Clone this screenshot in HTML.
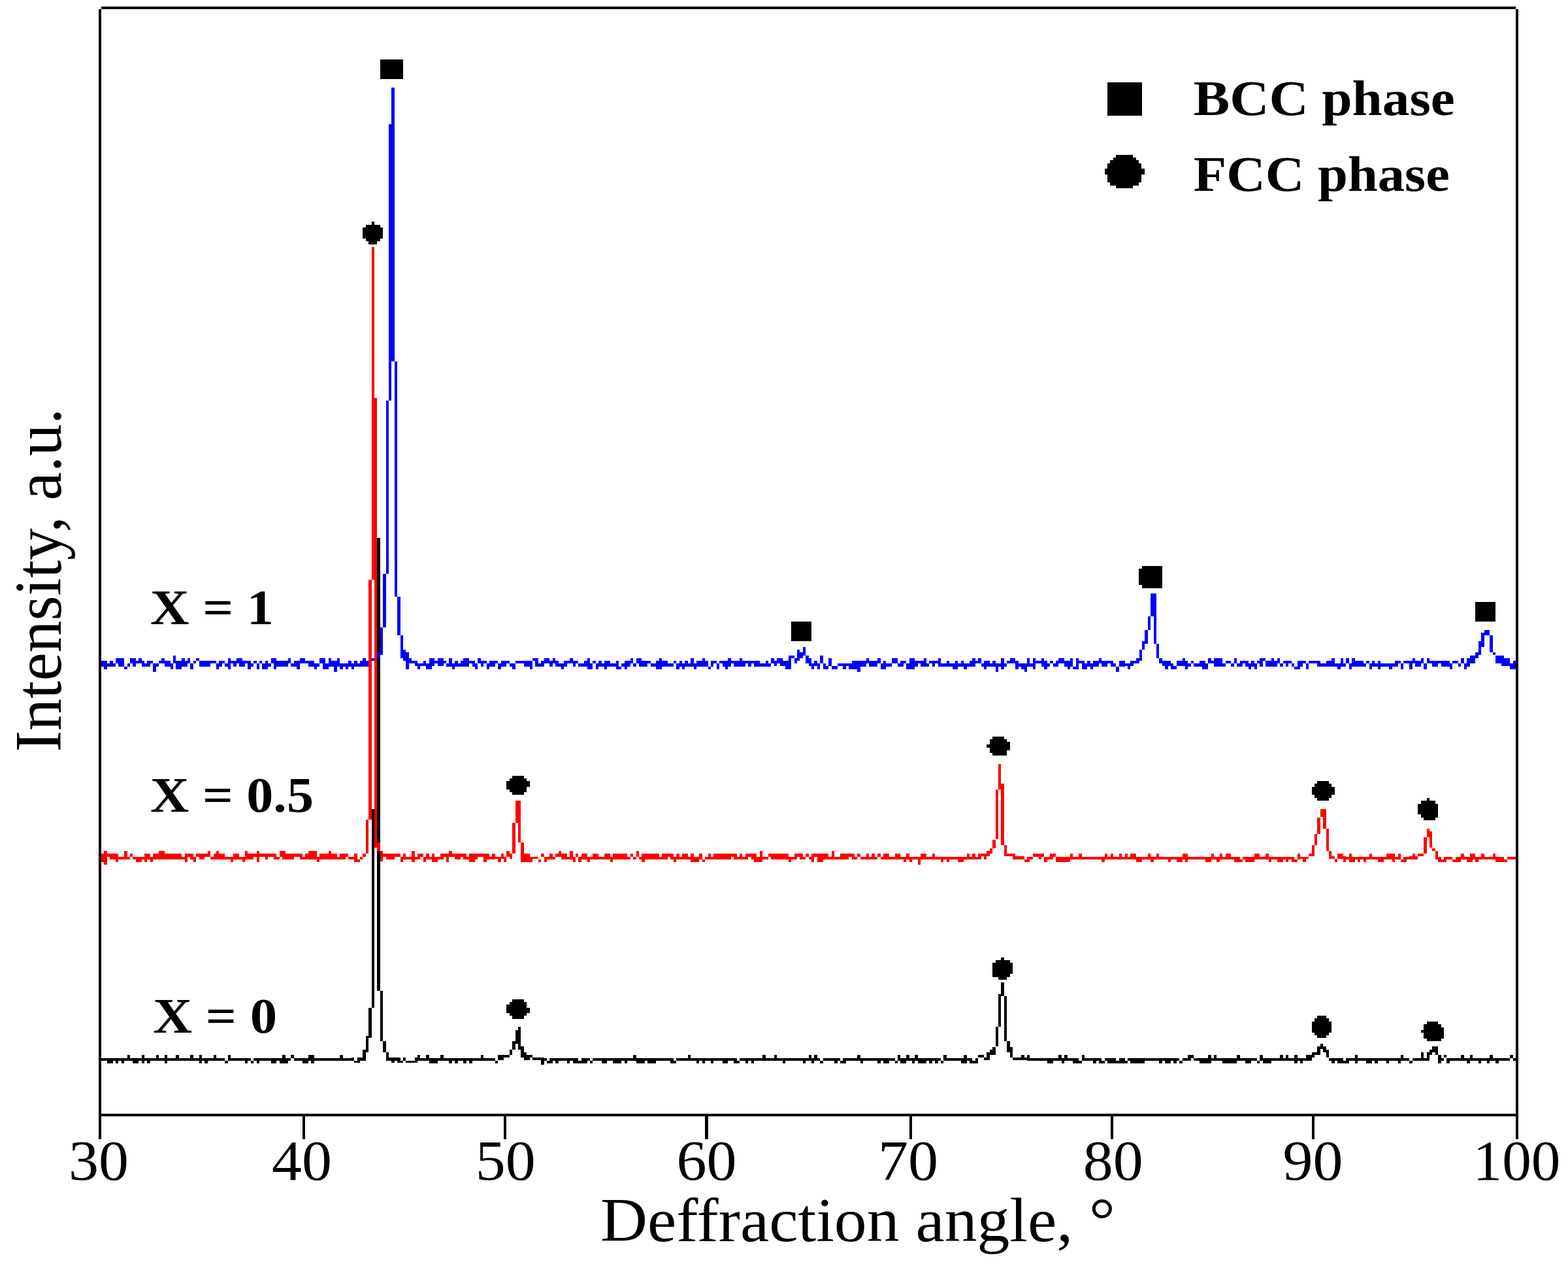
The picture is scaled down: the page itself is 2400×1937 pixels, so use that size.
<!DOCTYPE html>
<html><head><meta charset="utf-8"><title>XRD patterns</title>
<style>
html,body{margin:0;padding:0;background:#fff}
body{width:2400px;height:1937px;overflow:hidden;position:relative}
svg{position:absolute;left:0;top:0;display:block}
text{font-family:'Liberation Serif','Times New Roman',serif;fill:#000}
</style></head><body>
<svg width="2400" height="1937" viewBox="0 0 2400 1937">
<rect width="2400" height="1937" fill="#fff"/>
<g shape-rendering="crispEdges">
<path fill="#000" d="M155 10.1H2320V14.2H155zM150.6 14.2H155V1742.5H150.6zM2320 14.2H2324.4V1742.5H2320zM155 1704H2320V1708.2H155zM463.0 1708.2H467.4V1742.5H463.0zM771.0 1708.2H775.4V1742.5H771.0zM1079.1 1708.2H1083.5V1742.5H1079.1zM1391.5 1708.2H1395.9V1742.5H1391.5zM1699.5 1708.2H1703.9V1742.5H1699.5zM2007.6 1708.2H2012.0V1742.5H2007.6z"/>
<path fill="#000" d="M155.0 1618.5h4.40v4.2h-4.40zM159.4 1618.5h4.40v4.2h-4.40zM163.8 1618.5h4.40v8.5h-4.40zM168.2 1618.5h4.40v8.5h-4.40zM172.6 1618.5h4.40v4.2h-4.40zM177.0 1618.5h4.40v8.5h-4.40zM181.4 1618.5h4.40v4.2h-4.40zM185.8 1618.5h4.40v8.5h-4.40zM190.2 1618.5h4.40v4.2h-4.40zM194.6 1614.3h4.40v8.5h-4.40zM199.0 1618.5h4.40v4.2h-4.40zM203.4 1618.5h4.40v8.5h-4.40zM207.8 1618.5h4.40v8.5h-4.40zM212.2 1618.5h4.40v4.2h-4.40zM216.6 1614.3h4.40v12.7h-4.40zM221.0 1618.5h4.40v4.2h-4.40zM225.4 1618.5h4.40v8.5h-4.40zM229.8 1618.5h4.40v4.2h-4.40zM234.2 1618.5h4.40v4.2h-4.40zM238.6 1614.3h4.40v8.5h-4.40zM243.0 1618.5h4.40v4.2h-4.40zM247.4 1618.5h4.40v4.2h-4.40zM251.8 1614.3h4.40v12.7h-4.40zM256.2 1618.5h4.40v4.2h-4.40zM260.6 1618.5h4.40v4.2h-4.40zM265.0 1618.5h4.40v4.2h-4.40zM269.4 1614.3h4.40v8.5h-4.40zM273.8 1618.5h4.40v4.2h-4.40zM278.2 1618.5h4.40v4.2h-4.40zM282.6 1618.5h4.40v4.2h-4.40zM287.0 1618.5h4.40v4.2h-4.40zM291.4 1614.3h4.40v8.5h-4.40zM295.8 1618.5h4.40v4.2h-4.40zM300.2 1618.5h4.40v4.2h-4.40zM304.6 1614.3h4.40v12.7h-4.40zM309.0 1618.5h4.40v4.2h-4.40zM313.4 1618.5h4.40v8.5h-4.40zM317.8 1618.5h4.40v4.2h-4.40zM322.2 1618.5h4.40v4.2h-4.40zM326.6 1614.3h4.40v8.5h-4.40zM331.0 1618.5h4.40v4.2h-4.40zM335.4 1618.5h4.40v4.2h-4.40zM339.8 1618.5h4.40v4.2h-4.40zM344.2 1622.7h4.40v4.2h-4.40zM348.6 1614.3h4.40v8.5h-4.40zM353.0 1618.5h4.40v4.2h-4.40zM357.4 1618.5h4.40v4.2h-4.40zM361.8 1618.5h4.40v4.2h-4.40zM366.2 1618.5h4.40v4.2h-4.40zM370.6 1618.5h4.40v4.2h-4.40zM375.0 1618.5h4.40v8.5h-4.40zM379.4 1618.5h4.40v4.2h-4.40zM383.8 1622.7h4.40v4.2h-4.40zM388.2 1618.5h4.40v4.2h-4.40zM392.6 1618.5h4.40v8.5h-4.40zM397.0 1618.5h4.40v4.2h-4.40zM401.4 1618.5h4.40v4.2h-4.40zM405.8 1618.5h4.40v4.2h-4.40zM410.2 1618.5h4.40v4.2h-4.40zM414.6 1618.5h4.40v8.5h-4.40zM419.0 1618.5h4.40v8.5h-4.40zM423.4 1618.5h4.40v4.2h-4.40zM427.8 1618.5h4.40v8.5h-4.40zM432.2 1614.3h4.40v12.7h-4.40zM436.6 1618.5h4.40v8.5h-4.40zM441.0 1618.5h4.40v4.2h-4.40zM445.4 1614.3h4.40v4.2h-4.40zM449.8 1618.5h4.40v4.2h-4.40zM454.2 1618.5h4.40v4.2h-4.40zM458.6 1618.5h4.40v4.2h-4.40zM463.0 1618.5h4.40v8.5h-4.40zM467.4 1618.5h4.40v8.5h-4.40zM471.8 1614.3h4.40v8.5h-4.40zM476.2 1614.3h4.40v12.7h-4.40zM480.6 1618.5h4.40v4.2h-4.40zM485.0 1618.5h4.40v4.2h-4.40zM489.4 1618.5h4.40v4.2h-4.40zM493.8 1618.5h4.40v4.2h-4.40zM498.2 1618.5h4.40v4.2h-4.40zM502.6 1618.5h4.40v4.2h-4.40zM507.0 1618.5h4.40v4.2h-4.40zM511.4 1618.5h4.40v4.2h-4.40zM515.8 1618.5h4.40v4.2h-4.40zM520.2 1614.3h4.40v8.5h-4.40zM524.6 1618.5h4.40v4.2h-4.40zM529.0 1618.5h4.40v4.2h-4.40zM533.4 1618.5h4.40v4.2h-4.40zM537.8 1618.4h4.40v4.5h-4.40zM542.2 1622.9h4.40v3.5h-4.40zM546.6 1618.4h4.40v8.0h-4.40zM551.0 1618.4h4.40v4.5h-4.40zM555.4 1606.0h4.40v16.9h-4.40zM559.8 1584.5h4.40v25.0h-4.40zM564.2 1541.6h4.40v46.4h-4.40zM568.6 1238.0h4.40v303.6h-4.40zM573.0 822.8h4.40v415.2h-4.40zM577.4 822.8h4.40v692.9h-4.40zM581.8 1515.7h4.40v76.8h-4.40zM586.2 1592.5h4.40v17.0h-4.40zM590.6 1609.5h4.40v13.4h-4.40zM595.0 1618.4h4.40v4.5h-4.40zM599.4 1618.4h4.40v8.0h-4.40zM603.8 1618.4h4.40v4.5h-4.40zM608.2 1618.4h4.40v8.0h-4.40zM612.6 1622.9h4.40v3.5h-4.40zM617.0 1618.4h4.40v4.5h-4.40zM621.4 1622.9h4.40v3.5h-4.40zM625.8 1622.9h4.40v3.5h-4.40zM630.2 1622.9h4.40v3.5h-4.40zM634.6 1618.4h4.40v8.0h-4.40zM639.0 1614.3h4.40v8.5h-4.40zM643.4 1618.5h4.40v4.2h-4.40zM647.8 1618.5h4.40v4.2h-4.40zM652.2 1614.3h4.40v8.5h-4.40zM656.6 1618.5h4.40v8.5h-4.40zM661.0 1618.5h4.40v8.5h-4.40zM665.4 1618.5h4.40v8.5h-4.40zM669.8 1618.5h4.40v4.2h-4.40zM674.2 1614.3h4.40v8.5h-4.40zM678.6 1618.5h4.40v4.2h-4.40zM683.0 1618.5h4.40v4.2h-4.40zM687.4 1618.5h4.40v8.5h-4.40zM691.8 1618.5h4.40v4.2h-4.40zM696.2 1618.5h4.40v8.5h-4.40zM700.6 1618.5h4.40v4.2h-4.40zM705.0 1618.5h4.40v4.2h-4.40zM709.4 1618.5h4.40v8.5h-4.40zM713.8 1618.5h4.40v4.2h-4.40zM718.2 1618.5h4.40v8.5h-4.40zM722.6 1618.5h4.40v4.2h-4.40zM727.0 1618.5h4.40v4.2h-4.40zM731.4 1618.5h4.40v4.2h-4.40zM735.8 1614.3h4.40v8.5h-4.40zM740.2 1618.5h4.40v4.2h-4.40zM744.6 1618.5h4.40v4.2h-4.40zM749.0 1618.5h4.40v4.2h-4.40zM753.4 1618.5h4.40v4.2h-4.40zM757.8 1622.7h4.40v4.2h-4.40zM762.2 1614.0h4.40v8.3h-4.40zM766.6 1614.0h4.40v8.3h-4.40zM771.0 1614.0h4.40v4.2h-4.40zM775.4 1614.0h4.40v4.2h-4.40zM779.8 1605.8h4.40v7.9h-4.40zM784.2 1592.7h4.40v12.8h-4.40zM788.6 1575.9h4.40v20.9h-4.40zM793.0 1571.4h4.40v34.1h-4.40zM797.4 1601.0h4.40v17.2h-4.40zM801.8 1610.0h4.40v12.3h-4.40zM806.2 1614.0h4.40v8.3h-4.40zM810.6 1614.0h4.40v4.2h-4.40zM815.0 1618.2h4.40v4.1h-4.40zM819.4 1618.2h4.40v4.1h-4.40zM823.8 1618.2h4.40v4.1h-4.40zM828.2 1618.2h4.40v10.5h-4.40zM832.6 1618.5h4.40v4.2h-4.40zM837.0 1622.7h4.40v4.2h-4.40zM841.4 1618.5h4.40v8.5h-4.40zM845.8 1618.5h4.40v4.2h-4.40zM850.2 1618.5h4.40v8.5h-4.40zM854.6 1618.5h4.40v4.2h-4.40zM859.0 1618.5h4.40v4.2h-4.40zM863.4 1618.5h4.40v4.2h-4.40zM867.8 1618.5h4.40v8.5h-4.40zM872.2 1618.5h4.40v4.2h-4.40zM876.6 1618.5h4.40v8.5h-4.40zM881.0 1618.5h4.40v8.5h-4.40zM885.4 1622.7h4.40v4.2h-4.40zM889.8 1618.5h4.40v8.5h-4.40zM894.2 1618.5h4.40v8.5h-4.40zM898.6 1618.5h4.40v4.2h-4.40zM903.0 1622.7h4.40v4.2h-4.40zM907.4 1618.5h4.40v4.2h-4.40zM911.8 1618.5h4.40v4.2h-4.40zM916.2 1618.5h4.40v4.2h-4.40zM920.6 1618.5h4.40v8.5h-4.40zM925.0 1618.5h4.40v8.5h-4.40zM929.4 1618.5h4.40v4.2h-4.40zM933.8 1618.5h4.40v4.2h-4.40zM938.2 1618.5h4.40v8.5h-4.40zM942.6 1618.5h4.40v8.5h-4.40zM947.0 1618.5h4.40v8.5h-4.40zM951.4 1618.5h4.40v4.2h-4.40zM955.8 1618.5h4.40v8.5h-4.40zM960.2 1618.5h4.40v4.2h-4.40zM964.6 1618.5h4.40v4.2h-4.40zM969.1 1614.3h4.40v8.5h-4.40zM973.5 1618.5h4.40v8.5h-4.40zM977.9 1618.5h4.40v8.5h-4.40zM982.3 1618.5h4.40v8.5h-4.40zM986.7 1618.5h4.40v4.2h-4.40zM991.1 1618.5h4.40v8.5h-4.40zM995.5 1618.5h4.40v8.5h-4.40zM999.9 1618.5h4.40v8.5h-4.40zM1004.3 1618.5h4.40v4.2h-4.40zM1008.7 1618.5h4.40v4.2h-4.40zM1013.1 1618.5h4.40v4.2h-4.40zM1017.5 1618.5h4.40v4.2h-4.40zM1021.9 1618.5h4.40v4.2h-4.40zM1026.3 1618.5h4.40v8.5h-4.40zM1030.7 1622.7h4.40v4.2h-4.40zM1035.1 1618.5h4.40v4.2h-4.40zM1039.5 1618.5h4.40v4.2h-4.40zM1043.9 1618.5h4.40v4.2h-4.40zM1048.3 1618.5h4.40v4.2h-4.40zM1052.7 1614.3h4.40v8.5h-4.40zM1057.1 1618.5h4.40v4.2h-4.40zM1061.5 1618.5h4.40v4.2h-4.40zM1065.9 1618.5h4.40v8.5h-4.40zM1070.3 1618.5h4.40v4.2h-4.40zM1074.7 1618.5h4.40v8.5h-4.40zM1079.1 1618.5h4.40v4.2h-4.40zM1083.5 1618.5h4.40v4.2h-4.40zM1087.9 1618.5h4.40v8.5h-4.40zM1092.3 1618.5h4.40v4.2h-4.40zM1096.7 1618.5h4.40v4.2h-4.40zM1101.1 1618.5h4.40v4.2h-4.40zM1105.5 1618.5h4.40v8.5h-4.40zM1109.9 1618.5h4.40v8.5h-4.40zM1114.3 1618.5h4.40v4.2h-4.40zM1118.7 1618.5h4.40v4.2h-4.40zM1123.1 1618.5h4.40v8.5h-4.40zM1127.5 1622.7h4.40v4.2h-4.40zM1131.9 1618.5h4.40v4.2h-4.40zM1136.3 1618.5h4.40v4.2h-4.40zM1140.7 1618.5h4.40v8.5h-4.40zM1145.1 1618.5h4.40v4.2h-4.40zM1149.5 1618.5h4.40v8.5h-4.40zM1153.9 1618.5h4.40v4.2h-4.40zM1158.3 1618.5h4.40v4.2h-4.40zM1162.7 1618.5h4.40v4.2h-4.40zM1167.1 1614.3h4.40v8.5h-4.40zM1171.5 1618.5h4.40v4.2h-4.40zM1175.9 1618.5h4.40v4.2h-4.40zM1180.3 1618.5h4.40v4.2h-4.40zM1184.7 1614.3h4.40v8.5h-4.40zM1189.1 1618.5h4.40v4.2h-4.40zM1193.5 1618.5h4.40v4.2h-4.40zM1197.9 1618.5h4.40v8.5h-4.40zM1202.3 1618.5h4.40v4.2h-4.40zM1206.7 1618.5h4.40v4.2h-4.40zM1211.1 1618.5h4.40v4.2h-4.40zM1215.5 1618.5h4.40v4.2h-4.40zM1219.9 1618.5h4.40v4.2h-4.40zM1224.3 1618.5h4.40v4.2h-4.40zM1228.7 1618.5h4.40v8.5h-4.40zM1233.1 1618.5h4.40v4.2h-4.40zM1237.5 1614.3h4.40v8.5h-4.40zM1241.9 1618.5h4.40v8.5h-4.40zM1246.3 1614.3h4.40v8.5h-4.40zM1250.7 1618.5h4.40v4.2h-4.40zM1255.1 1622.7h4.40v4.2h-4.40zM1259.5 1618.5h4.40v4.2h-4.40zM1263.9 1618.5h4.40v4.2h-4.40zM1268.3 1618.5h4.40v4.2h-4.40zM1272.7 1618.5h4.40v4.2h-4.40zM1277.1 1618.5h4.40v8.5h-4.40zM1281.5 1618.5h4.40v4.2h-4.40zM1285.9 1622.7h4.40v4.2h-4.40zM1290.3 1618.5h4.40v8.5h-4.40zM1294.7 1618.5h4.40v4.2h-4.40zM1299.1 1618.5h4.40v4.2h-4.40zM1303.5 1618.5h4.40v4.2h-4.40zM1307.9 1618.5h4.40v4.2h-4.40zM1312.3 1614.3h4.40v8.5h-4.40zM1316.7 1618.5h4.40v8.5h-4.40zM1321.1 1618.5h4.40v4.2h-4.40zM1325.5 1618.5h4.40v4.2h-4.40zM1329.9 1618.5h4.40v4.2h-4.40zM1334.3 1618.5h4.40v4.2h-4.40zM1338.7 1618.5h4.40v4.2h-4.40zM1343.1 1618.5h4.40v8.5h-4.40zM1347.5 1618.5h4.40v4.2h-4.40zM1351.9 1618.5h4.40v8.5h-4.40zM1356.3 1618.5h4.40v8.5h-4.40zM1360.7 1618.5h4.40v4.2h-4.40zM1365.1 1618.5h4.40v4.2h-4.40zM1369.5 1622.7h4.40v4.2h-4.40zM1373.9 1614.3h4.40v8.5h-4.40zM1378.3 1618.5h4.40v8.5h-4.40zM1382.7 1618.5h4.40v8.5h-4.40zM1387.1 1614.3h4.40v8.5h-4.40zM1391.5 1618.5h4.40v4.2h-4.40zM1395.9 1618.5h4.40v8.5h-4.40zM1400.3 1614.3h4.40v8.5h-4.40zM1404.7 1618.5h4.40v8.5h-4.40zM1409.1 1618.5h4.40v8.5h-4.40zM1413.5 1618.5h4.40v8.5h-4.40zM1417.9 1618.5h4.40v4.2h-4.40zM1422.3 1618.5h4.40v8.5h-4.40zM1426.7 1618.5h4.40v4.2h-4.40zM1431.1 1618.5h4.40v8.5h-4.40zM1435.5 1618.5h4.40v4.2h-4.40zM1439.9 1622.7h4.40v4.2h-4.40zM1444.3 1614.3h4.40v8.5h-4.40zM1448.7 1618.5h4.40v4.2h-4.40zM1453.1 1618.5h4.40v4.2h-4.40zM1457.5 1618.5h4.40v4.2h-4.40zM1461.9 1618.5h4.40v4.2h-4.40zM1466.3 1618.5h4.40v4.2h-4.40zM1470.7 1618.5h4.40v8.5h-4.40zM1475.1 1614.3h4.40v12.7h-4.40zM1479.5 1618.5h4.40v4.2h-4.40zM1483.9 1618.5h4.40v8.5h-4.40zM1488.3 1622.7h4.40v4.2h-4.40zM1492.7 1618.5h4.40v8.5h-4.40zM1497.1 1614.0h4.40v4.4h-4.40zM1501.5 1614.0h4.40v4.4h-4.40zM1505.9 1618.4h4.40v3.9h-4.40zM1510.3 1610.2h4.40v12.1h-4.40zM1514.7 1605.9h4.40v7.6h-4.40zM1519.1 1601.5h4.40v12.0h-4.40zM1523.5 1571.4h4.40v29.6h-4.40zM1527.9 1520.5h4.40v50.4h-4.40zM1532.3 1503.3h4.40v20.5h-4.40zM1536.7 1524.4h4.40v68.3h-4.40zM1541.1 1592.7h4.40v17.0h-4.40zM1545.5 1601.5h4.40v16.9h-4.40zM1549.9 1618.4h4.40v3.9h-4.40zM1554.3 1618.4h4.40v3.9h-4.40zM1558.7 1618.4h4.40v3.9h-4.40zM1563.1 1614.0h4.40v8.3h-4.40zM1567.5 1618.4h4.40v3.9h-4.40zM1571.9 1614.3h4.40v8.5h-4.40zM1576.3 1618.5h4.40v4.2h-4.40zM1580.7 1618.5h4.40v4.2h-4.40zM1585.1 1618.5h4.40v4.2h-4.40zM1589.5 1618.5h4.40v4.2h-4.40zM1593.9 1618.5h4.40v4.2h-4.40zM1598.3 1618.5h4.40v4.2h-4.40zM1602.7 1618.5h4.40v8.5h-4.40zM1607.1 1618.5h4.40v8.5h-4.40zM1611.5 1618.5h4.40v4.2h-4.40zM1615.9 1618.5h4.40v4.2h-4.40zM1620.3 1614.3h4.40v8.5h-4.40zM1624.7 1618.5h4.40v8.5h-4.40zM1629.1 1614.3h4.40v8.5h-4.40zM1633.5 1618.5h4.40v4.2h-4.40zM1637.9 1618.5h4.40v4.2h-4.40zM1642.3 1618.5h4.40v8.5h-4.40zM1646.7 1618.5h4.40v8.5h-4.40zM1651.1 1622.7h4.40v4.2h-4.40zM1655.5 1614.3h4.40v8.5h-4.40zM1659.9 1618.5h4.40v4.2h-4.40zM1664.3 1618.5h4.40v4.2h-4.40zM1668.7 1618.5h4.40v4.2h-4.40zM1673.1 1618.5h4.40v8.5h-4.40zM1677.5 1618.5h4.40v4.2h-4.40zM1681.9 1618.5h4.40v8.5h-4.40zM1686.3 1622.7h4.40v4.2h-4.40zM1690.7 1618.5h4.40v4.2h-4.40zM1695.1 1618.5h4.40v8.5h-4.40zM1699.5 1618.5h4.40v8.5h-4.40zM1703.9 1618.5h4.40v8.5h-4.40zM1708.3 1622.7h4.40v4.2h-4.40zM1712.7 1618.5h4.40v8.5h-4.40zM1717.1 1618.5h4.40v8.5h-4.40zM1721.5 1622.7h4.40v4.2h-4.40zM1725.9 1618.5h4.40v4.2h-4.40zM1730.3 1618.5h4.40v8.5h-4.40zM1734.7 1618.5h4.40v8.5h-4.40zM1739.1 1618.5h4.40v8.5h-4.40zM1743.5 1618.5h4.40v8.5h-4.40zM1747.9 1618.5h4.40v8.5h-4.40zM1752.3 1618.5h4.40v4.2h-4.40zM1756.7 1618.5h4.40v4.2h-4.40zM1761.1 1618.5h4.40v4.2h-4.40zM1765.5 1618.5h4.40v4.2h-4.40zM1769.9 1618.5h4.40v4.2h-4.40zM1774.3 1618.5h4.40v8.5h-4.40zM1778.7 1618.5h4.40v4.2h-4.40zM1783.1 1618.5h4.40v8.5h-4.40zM1787.5 1618.5h4.40v8.5h-4.40zM1791.9 1618.5h4.40v4.2h-4.40zM1796.3 1618.5h4.40v8.5h-4.40zM1800.7 1618.5h4.40v4.2h-4.40zM1805.1 1622.7h4.40v4.2h-4.40zM1809.5 1618.5h4.40v4.2h-4.40zM1813.9 1618.5h4.40v4.2h-4.40zM1818.3 1614.3h4.40v8.5h-4.40zM1822.7 1614.3h4.40v4.2h-4.40zM1827.1 1618.5h4.40v4.2h-4.40zM1831.5 1618.5h4.40v4.2h-4.40zM1835.9 1618.5h4.40v8.5h-4.40zM1840.3 1618.5h4.40v8.5h-4.40zM1844.7 1618.5h4.40v8.5h-4.40zM1849.2 1614.3h4.40v12.7h-4.40zM1853.6 1618.5h4.40v4.2h-4.40zM1858.0 1614.3h4.40v8.5h-4.40zM1862.4 1618.5h4.40v4.2h-4.40zM1866.8 1618.5h4.40v4.2h-4.40zM1871.2 1618.5h4.40v8.5h-4.40zM1875.6 1618.5h4.40v8.5h-4.40zM1880.0 1618.5h4.40v8.5h-4.40zM1884.4 1618.5h4.40v8.5h-4.40zM1888.8 1618.5h4.40v8.5h-4.40zM1893.2 1614.3h4.40v8.5h-4.40zM1897.6 1618.5h4.40v4.2h-4.40zM1902.0 1618.5h4.40v4.2h-4.40zM1906.4 1618.5h4.40v8.5h-4.40zM1910.8 1618.5h4.40v8.5h-4.40zM1915.2 1618.5h4.40v4.2h-4.40zM1919.6 1618.5h4.40v4.2h-4.40zM1924.0 1622.7h4.40v4.2h-4.40zM1928.4 1614.3h4.40v8.5h-4.40zM1932.8 1618.5h4.40v8.5h-4.40zM1937.2 1618.5h4.40v8.5h-4.40zM1941.6 1618.5h4.40v8.5h-4.40zM1946.0 1618.5h4.40v4.2h-4.40zM1950.4 1618.5h4.40v4.2h-4.40zM1954.8 1618.5h4.40v4.2h-4.40zM1959.2 1614.3h4.40v8.5h-4.40zM1963.6 1618.5h4.40v4.2h-4.40zM1968.0 1614.3h4.40v8.5h-4.40zM1972.4 1618.5h4.40v4.2h-4.40zM1976.8 1618.5h4.40v4.2h-4.40zM1981.2 1614.3h4.40v12.7h-4.40zM1985.6 1618.5h4.40v4.2h-4.40zM1990.0 1618.6h4.40v8.1h-4.40zM1994.4 1618.6h4.40v4.1h-4.40zM1998.8 1614.3h4.40v8.4h-4.40zM2003.2 1614.3h4.40v8.4h-4.40zM2007.6 1610.0h4.40v8.4h-4.40zM2012.0 1610.0h4.40v4.0h-4.40zM2016.4 1601.4h4.40v12.6h-4.40zM2020.8 1597.3h4.40v8.1h-4.40zM2025.2 1601.4h4.40v8.3h-4.40zM2029.6 1606.0h4.40v12.4h-4.40zM2034.0 1618.6h4.40v4.1h-4.40zM2038.4 1618.6h4.40v8.1h-4.40zM2042.8 1618.6h4.40v4.1h-4.40zM2047.2 1618.6h4.40v8.1h-4.40zM2051.6 1618.6h4.40v8.1h-4.40zM2056.0 1623.0h4.40v3.7h-4.40zM2060.4 1618.5h4.40v8.5h-4.40zM2064.8 1618.5h4.40v4.2h-4.40zM2069.2 1618.5h4.40v4.2h-4.40zM2073.6 1614.3h4.40v12.7h-4.40zM2078.0 1618.5h4.40v4.2h-4.40zM2082.4 1618.5h4.40v4.2h-4.40zM2086.8 1618.5h4.40v4.2h-4.40zM2091.2 1618.5h4.40v8.5h-4.40zM2095.6 1618.5h4.40v8.5h-4.40zM2100.0 1618.5h4.40v4.2h-4.40zM2104.4 1618.5h4.40v8.5h-4.40zM2108.8 1618.5h4.40v4.2h-4.40zM2113.2 1618.5h4.40v4.2h-4.40zM2117.6 1618.5h4.40v4.2h-4.40zM2122.0 1618.5h4.40v8.5h-4.40zM2126.4 1618.5h4.40v4.2h-4.40zM2130.8 1618.5h4.40v4.2h-4.40zM2135.2 1618.5h4.40v4.2h-4.40zM2139.6 1618.5h4.40v8.5h-4.40zM2144.0 1614.3h4.40v8.5h-4.40zM2148.4 1618.5h4.40v4.2h-4.40zM2152.8 1618.5h4.40v4.2h-4.40zM2157.2 1622.6h4.40v4.1h-4.40zM2161.6 1618.7h4.40v3.9h-4.40zM2166.0 1618.7h4.40v3.9h-4.40zM2170.4 1618.7h4.40v3.9h-4.40zM2174.8 1610.1h4.40v12.5h-4.40zM2179.2 1618.7h4.40v3.9h-4.40zM2183.6 1610.1h4.40v12.5h-4.40zM2188.0 1606.0h4.40v7.8h-4.40zM2192.4 1601.3h4.40v8.3h-4.40zM2196.8 1601.3h4.40v12.5h-4.40zM2201.2 1614.3h4.40v12.4h-4.40zM2205.6 1618.7h4.40v3.9h-4.40zM2210.0 1614.3h4.40v3.9h-4.40zM2214.4 1618.7h4.40v8.0h-4.40zM2218.8 1618.7h4.40v3.9h-4.40zM2223.2 1618.7h4.40v3.9h-4.40zM2227.6 1618.7h4.40v3.9h-4.40zM2232.0 1618.7h4.40v3.9h-4.40zM2236.4 1614.3h4.40v8.3h-4.40zM2240.8 1618.5h4.40v4.2h-4.40zM2245.2 1618.5h4.40v8.5h-4.40zM2249.6 1614.3h4.40v8.5h-4.40zM2254.0 1618.5h4.40v4.2h-4.40zM2258.4 1618.5h4.40v4.2h-4.40zM2262.8 1618.5h4.40v8.5h-4.40zM2267.2 1618.5h4.40v4.2h-4.40zM2271.6 1618.5h4.40v4.2h-4.40zM2276.0 1618.5h4.40v8.5h-4.40zM2280.4 1614.3h4.40v8.5h-4.40zM2284.8 1618.5h4.40v4.2h-4.40zM2289.2 1618.5h4.40v8.5h-4.40zM2293.6 1618.5h4.40v4.2h-4.40zM2298.0 1618.5h4.40v4.2h-4.40zM2302.4 1618.5h4.40v4.2h-4.40zM2306.8 1618.5h4.40v4.2h-4.40zM2311.2 1614.3h4.40v4.2h-4.40zM2315.6 1618.5h4.40v4.2h-4.40z"/>
<path fill="#0000ff" d="M155.0 1011.1h4.40v8.5h-4.40zM159.4 1011.1h4.40v12.7h-4.40zM163.8 1015.3h4.40v4.2h-4.40zM168.2 1011.1h4.40v8.5h-4.40zM172.6 1015.3h4.40v4.2h-4.40zM177.0 1006.8h4.40v8.5h-4.40zM181.4 1006.8h4.40v12.7h-4.40zM185.8 1006.8h4.40v12.7h-4.40zM190.2 1019.5h4.40v4.2h-4.40zM194.6 1015.3h4.40v4.2h-4.40zM199.0 1006.8h4.40v8.5h-4.40zM203.4 1006.8h4.40v12.7h-4.40zM207.8 1011.1h4.40v4.2h-4.40zM212.2 1006.8h4.40v8.5h-4.40zM216.6 1011.1h4.40v8.5h-4.40zM221.0 1015.3h4.40v4.2h-4.40zM225.4 1011.1h4.40v8.5h-4.40zM229.8 1011.1h4.40v4.2h-4.40zM234.2 1015.3h4.40v12.7h-4.40zM238.6 1015.3h4.40v4.2h-4.40zM243.0 1011.1h4.40v4.2h-4.40zM247.4 1006.8h4.40v8.5h-4.40zM251.8 1011.1h4.40v8.5h-4.40zM256.2 1011.1h4.40v8.5h-4.40zM260.6 1015.3h4.40v8.5h-4.40zM265.0 1002.6h4.40v12.7h-4.40zM269.4 1011.1h4.40v12.7h-4.40zM273.8 1011.1h4.40v12.7h-4.40zM278.2 1006.8h4.40v12.7h-4.40zM282.6 1011.1h4.40v8.5h-4.40zM287.0 1006.8h4.40v8.5h-4.40zM291.4 1015.3h4.40v8.5h-4.40zM295.8 1011.1h4.40v4.2h-4.40zM300.2 1006.8h4.40v4.2h-4.40zM304.6 1011.1h4.40v8.5h-4.40zM309.0 1011.1h4.40v8.5h-4.40zM313.4 1011.1h4.40v8.5h-4.40zM317.8 1011.1h4.40v8.5h-4.40zM322.2 1011.1h4.40v4.2h-4.40zM326.6 1011.1h4.40v4.2h-4.40zM331.0 1015.3h4.40v8.5h-4.40zM335.4 1011.1h4.40v8.5h-4.40zM339.8 1011.1h4.40v4.2h-4.40zM344.2 1015.3h4.40v4.2h-4.40zM348.6 1006.8h4.40v16.9h-4.40zM353.0 1011.1h4.40v4.2h-4.40zM357.4 1011.1h4.40v8.5h-4.40zM361.8 1006.8h4.40v8.5h-4.40zM366.2 1006.8h4.40v12.7h-4.40zM370.6 1011.1h4.40v8.5h-4.40zM375.0 1011.1h4.40v4.2h-4.40zM379.4 1011.1h4.40v12.7h-4.40zM383.8 1015.3h4.40v4.2h-4.40zM388.2 1011.1h4.40v4.2h-4.40zM392.6 1015.3h4.40v8.5h-4.40zM397.0 1011.1h4.40v4.2h-4.40zM401.4 1015.3h4.40v8.5h-4.40zM405.8 1011.1h4.40v12.7h-4.40zM410.2 1015.3h4.40v4.2h-4.40zM414.6 1006.8h4.40v8.5h-4.40zM419.0 1006.8h4.40v16.9h-4.40zM423.4 1011.1h4.40v8.5h-4.40zM427.8 1011.1h4.40v8.5h-4.40zM432.2 1011.1h4.40v8.5h-4.40zM436.6 1011.1h4.40v8.5h-4.40zM441.0 1006.8h4.40v8.5h-4.40zM445.4 1015.3h4.40v4.2h-4.40zM449.8 1011.1h4.40v8.5h-4.40zM454.2 1011.1h4.40v12.7h-4.40zM458.6 1006.8h4.40v8.5h-4.40zM463.0 1006.8h4.40v8.5h-4.40zM467.4 1011.1h4.40v4.2h-4.40zM471.8 1011.1h4.40v8.5h-4.40zM476.2 1011.1h4.40v8.5h-4.40zM480.6 1015.3h4.40v8.5h-4.40zM485.0 1015.3h4.40v4.2h-4.40zM489.4 1006.8h4.40v8.5h-4.40zM493.8 1006.8h4.40v16.9h-4.40zM498.2 1015.3h4.40v8.5h-4.40zM502.6 1006.8h4.40v12.7h-4.40zM507.0 1011.1h4.40v8.5h-4.40zM511.4 1011.1h4.40v16.9h-4.40zM515.8 1006.8h4.40v12.7h-4.40zM520.2 1015.3h4.40v8.5h-4.40zM524.6 1015.3h4.40v4.2h-4.40zM529.0 1015.3h4.40v8.5h-4.40zM533.4 1011.1h4.40v8.5h-4.40zM537.8 1015.3h4.40v8.5h-4.40zM542.2 1011.1h4.40v8.5h-4.40zM546.6 1015.3h4.40v4.2h-4.40zM551.0 1011.1h4.40v8.5h-4.40zM555.4 1006.9h4.40v13.0h-4.40zM559.8 1010.8h4.40v9.1h-4.40zM564.2 1006.9h4.40v3.9h-4.40zM568.6 1006.9h4.40v3.9h-4.40zM573.0 1002.4h4.40v4.6h-4.40zM577.4 998.0h4.40v9.0h-4.40zM581.8 959.8h4.40v42.6h-4.40zM586.2 878.0h4.40v81.8h-4.40zM590.6 613.0h4.40v265.0h-4.40zM595.0 189.6h4.40v423.4h-4.40zM599.4 133.9h4.40v419.1h-4.40zM603.8 553.0h4.40v359.6h-4.40zM608.2 912.6h4.40v59.7h-4.40zM612.6 972.3h4.40v34.5h-4.40zM617.0 994.0h4.40v16.8h-4.40zM621.4 998.1h4.40v25.6h-4.40zM625.8 1007.0h4.40v8.2h-4.40zM630.2 1011.2h4.40v4.0h-4.40zM634.6 1011.2h4.40v8.2h-4.40zM639.0 1015.2h4.40v8.5h-4.40zM643.4 1015.2h4.40v4.2h-4.40zM647.8 1011.2h4.40v8.2h-4.40zM652.2 1015.2h4.40v8.5h-4.40zM656.6 1007.0h4.40v16.7h-4.40zM661.0 1007.0h4.40v12.4h-4.40zM665.4 1011.2h4.40v4.0h-4.40zM669.8 1007.0h4.40v12.4h-4.40zM674.2 1007.0h4.40v12.4h-4.40zM678.6 1011.2h4.40v4.0h-4.40zM683.0 1015.3h4.40v4.2h-4.40zM687.4 1006.8h4.40v12.7h-4.40zM691.8 1015.3h4.40v8.5h-4.40zM696.2 1011.1h4.40v8.5h-4.40zM700.6 1015.3h4.40v4.2h-4.40zM705.0 1011.1h4.40v8.5h-4.40zM709.4 1006.8h4.40v12.7h-4.40zM713.8 1006.8h4.40v12.7h-4.40zM718.2 1011.1h4.40v4.2h-4.40zM722.6 1011.1h4.40v8.5h-4.40zM727.0 1015.3h4.40v8.5h-4.40zM731.4 1006.8h4.40v8.5h-4.40zM735.8 1011.1h4.40v8.5h-4.40zM740.2 1011.1h4.40v4.2h-4.40zM744.6 1015.3h4.40v8.5h-4.40zM749.0 1011.1h4.40v8.5h-4.40zM753.4 1011.1h4.40v8.5h-4.40zM757.8 1011.1h4.40v4.2h-4.40zM762.2 1015.3h4.40v8.5h-4.40zM766.6 1011.1h4.40v8.5h-4.40zM771.0 1011.1h4.40v8.5h-4.40zM775.4 1011.1h4.40v4.2h-4.40zM779.8 1015.3h4.40v4.2h-4.40zM784.2 1015.3h4.40v8.5h-4.40zM788.6 1011.1h4.40v4.2h-4.40zM793.0 1011.1h4.40v4.2h-4.40zM797.4 1011.1h4.40v4.2h-4.40zM801.8 1011.1h4.40v8.5h-4.40zM806.2 1011.1h4.40v8.5h-4.40zM810.6 1011.1h4.40v12.7h-4.40zM815.0 1006.8h4.40v4.2h-4.40zM819.4 1006.8h4.40v12.7h-4.40zM823.8 1015.3h4.40v4.2h-4.40zM828.2 1011.1h4.40v8.5h-4.40zM832.6 1006.8h4.40v8.5h-4.40zM837.0 1006.8h4.40v8.5h-4.40zM841.4 1011.1h4.40v8.5h-4.40zM845.8 1006.8h4.40v8.5h-4.40zM850.2 1011.1h4.40v8.5h-4.40zM854.6 1015.3h4.40v4.2h-4.40zM859.0 1015.3h4.40v8.5h-4.40zM863.4 1011.1h4.40v8.5h-4.40zM867.8 1011.1h4.40v4.2h-4.40zM872.2 1006.8h4.40v8.5h-4.40zM876.6 1011.1h4.40v8.5h-4.40zM881.0 1011.1h4.40v4.2h-4.40zM885.4 1015.3h4.40v4.2h-4.40zM889.8 1015.3h4.40v4.2h-4.40zM894.2 1011.1h4.40v8.5h-4.40zM898.6 1006.8h4.40v16.9h-4.40zM903.0 1015.3h4.40v8.5h-4.40zM907.4 1011.1h4.40v4.2h-4.40zM911.8 1015.3h4.40v8.5h-4.40zM916.2 1011.1h4.40v8.5h-4.40zM920.6 1015.3h4.40v4.2h-4.40zM925.0 1011.1h4.40v12.7h-4.40zM929.4 1011.1h4.40v8.5h-4.40zM933.8 1015.3h4.40v4.2h-4.40zM938.2 1015.3h4.40v4.2h-4.40zM942.6 1011.1h4.40v12.7h-4.40zM947.0 1019.5h4.40v4.2h-4.40zM951.4 1015.3h4.40v4.2h-4.40zM955.8 1011.1h4.40v12.7h-4.40zM960.2 1011.1h4.40v8.5h-4.40zM964.6 1006.8h4.40v8.5h-4.40zM969.1 1015.3h4.40v4.2h-4.40zM973.5 1006.8h4.40v8.5h-4.40zM977.9 1006.8h4.40v12.7h-4.40zM982.3 1011.1h4.40v8.5h-4.40zM986.7 1011.1h4.40v8.5h-4.40zM991.1 1011.1h4.40v4.2h-4.40zM995.5 1015.3h4.40v4.2h-4.40zM999.9 1015.3h4.40v4.2h-4.40zM1004.3 1011.1h4.40v12.7h-4.40zM1008.7 1006.8h4.40v16.9h-4.40zM1013.1 1011.1h4.40v8.5h-4.40zM1017.5 1011.1h4.40v8.5h-4.40zM1021.9 1015.3h4.40v4.2h-4.40zM1026.3 1015.3h4.40v4.2h-4.40zM1030.7 1011.1h4.40v4.2h-4.40zM1035.1 1015.3h4.40v8.5h-4.40zM1039.5 1011.1h4.40v8.5h-4.40zM1043.9 1015.3h4.40v8.5h-4.40zM1048.3 1011.1h4.40v8.5h-4.40zM1052.7 1015.3h4.40v4.2h-4.40zM1057.1 1006.8h4.40v12.7h-4.40zM1061.5 1015.3h4.40v8.5h-4.40zM1065.9 1011.1h4.40v8.5h-4.40zM1070.3 1011.1h4.40v8.5h-4.40zM1074.7 1006.8h4.40v12.7h-4.40zM1079.1 1011.1h4.40v8.5h-4.40zM1083.5 1019.5h4.40v4.2h-4.40zM1087.9 1011.1h4.40v8.5h-4.40zM1092.3 1011.1h4.40v4.2h-4.40zM1096.7 1015.3h4.40v8.5h-4.40zM1101.1 1011.1h4.40v4.2h-4.40zM1105.5 1011.1h4.40v8.5h-4.40zM1109.9 1011.1h4.40v12.7h-4.40zM1114.3 1006.8h4.40v12.7h-4.40zM1118.7 1011.1h4.40v4.2h-4.40zM1123.1 1011.1h4.40v8.5h-4.40zM1127.5 1011.1h4.40v8.5h-4.40zM1131.9 1006.8h4.40v12.7h-4.40zM1136.3 1011.1h4.40v8.5h-4.40zM1140.7 1011.1h4.40v4.2h-4.40zM1145.1 1011.1h4.40v8.5h-4.40zM1149.5 1011.1h4.40v4.2h-4.40zM1153.9 1011.1h4.40v8.5h-4.40zM1158.3 1011.1h4.40v8.5h-4.40zM1162.7 1015.3h4.40v4.2h-4.40zM1167.1 1015.3h4.40v4.2h-4.40zM1171.5 1011.1h4.40v8.5h-4.40zM1175.9 1015.3h4.40v4.2h-4.40zM1180.3 1006.9h4.40v8.1h-4.40zM1184.7 1011.1h4.40v8.1h-4.40zM1189.1 1006.9h4.40v8.1h-4.40zM1193.5 1006.9h4.40v12.3h-4.40zM1197.9 1011.1h4.40v8.1h-4.40zM1202.3 1011.1h4.40v12.6h-4.40zM1206.7 1002.5h4.40v21.2h-4.40zM1211.1 1002.5h4.40v4.4h-4.40zM1215.5 1006.9h4.40v8.1h-4.40zM1219.9 994.1h4.40v17.0h-4.40zM1224.3 998.3h4.40v8.6h-4.40zM1228.7 989.7h4.40v12.8h-4.40zM1233.1 1002.5h4.40v12.5h-4.40zM1237.5 1006.9h4.40v12.3h-4.40zM1241.9 1015.0h4.40v8.7h-4.40zM1246.3 1011.1h4.40v8.1h-4.40zM1250.7 1015.0h4.40v8.7h-4.40zM1255.1 1002.5h4.40v12.5h-4.40zM1259.5 1015.0h4.40v8.7h-4.40zM1263.9 1019.2h4.40v4.5h-4.40zM1268.3 1006.9h4.40v12.3h-4.40zM1272.7 1019.2h4.40v4.5h-4.40zM1277.1 1019.2h4.40v4.5h-4.40zM1281.5 1015.0h4.40v4.2h-4.40zM1285.9 1015.0h4.40v4.2h-4.40zM1290.3 1015.0h4.40v8.7h-4.40zM1294.7 1015.0h4.40v4.2h-4.40zM1299.1 1015.0h4.40v8.7h-4.40zM1303.5 1011.1h4.40v12.7h-4.40zM1307.9 1011.1h4.40v12.7h-4.40zM1312.3 1011.1h4.40v16.9h-4.40zM1316.7 1011.1h4.40v8.5h-4.40zM1321.1 1011.1h4.40v8.5h-4.40zM1325.5 1006.8h4.40v8.5h-4.40zM1329.9 1011.1h4.40v8.5h-4.40zM1334.3 1011.1h4.40v8.5h-4.40zM1338.7 1011.1h4.40v8.5h-4.40zM1343.1 1006.8h4.40v8.5h-4.40zM1347.5 1015.3h4.40v8.5h-4.40zM1351.9 1011.1h4.40v12.7h-4.40zM1356.3 1015.3h4.40v4.2h-4.40zM1360.7 1015.3h4.40v4.2h-4.40zM1365.1 1006.8h4.40v8.5h-4.40zM1369.5 1006.8h4.40v8.5h-4.40zM1373.9 1015.3h4.40v4.2h-4.40zM1378.3 1011.1h4.40v8.5h-4.40zM1382.7 1011.1h4.40v4.2h-4.40zM1387.1 1015.3h4.40v8.5h-4.40zM1391.5 1006.8h4.40v16.9h-4.40zM1395.9 1006.8h4.40v16.9h-4.40zM1400.3 1011.1h4.40v8.5h-4.40zM1404.7 1011.1h4.40v4.2h-4.40zM1409.1 1011.1h4.40v8.5h-4.40zM1413.5 1006.8h4.40v12.7h-4.40zM1417.9 1015.3h4.40v4.2h-4.40zM1422.3 1011.1h4.40v4.2h-4.40zM1426.7 1011.1h4.40v8.5h-4.40zM1431.1 1011.1h4.40v4.2h-4.40zM1435.5 1006.8h4.40v12.7h-4.40zM1439.9 1015.3h4.40v4.2h-4.40zM1444.3 1015.3h4.40v4.2h-4.40zM1448.7 1011.1h4.40v8.5h-4.40zM1453.1 1015.3h4.40v4.2h-4.40zM1457.5 1015.3h4.40v8.5h-4.40zM1461.9 1011.1h4.40v12.7h-4.40zM1466.3 1015.3h4.40v4.2h-4.40zM1470.7 1011.1h4.40v8.5h-4.40zM1475.1 1015.3h4.40v8.5h-4.40zM1479.5 1015.3h4.40v4.2h-4.40zM1483.9 1011.1h4.40v8.5h-4.40zM1488.3 1006.8h4.40v12.7h-4.40zM1492.7 1011.1h4.40v4.2h-4.40zM1497.1 1006.8h4.40v8.5h-4.40zM1501.5 1015.3h4.40v4.2h-4.40zM1505.9 1011.1h4.40v12.7h-4.40zM1510.3 1011.1h4.40v8.5h-4.40zM1514.7 1015.3h4.40v4.2h-4.40zM1519.1 1011.1h4.40v8.5h-4.40zM1523.5 1015.3h4.40v12.7h-4.40zM1527.9 1015.3h4.40v4.2h-4.40zM1532.3 1006.8h4.40v16.9h-4.40zM1536.7 1015.3h4.40v4.2h-4.40zM1541.1 1011.1h4.40v4.2h-4.40zM1545.5 1006.8h4.40v8.5h-4.40zM1549.9 1006.8h4.40v8.5h-4.40zM1554.3 1011.1h4.40v12.7h-4.40zM1558.7 1015.3h4.40v4.2h-4.40zM1563.1 1015.3h4.40v8.5h-4.40zM1567.5 1015.3h4.40v12.7h-4.40zM1571.9 1006.8h4.40v12.7h-4.40zM1576.3 1015.3h4.40v4.2h-4.40zM1580.7 1006.8h4.40v16.9h-4.40zM1585.1 1011.1h4.40v4.2h-4.40zM1589.5 1011.1h4.40v4.2h-4.40zM1593.9 1006.8h4.40v12.7h-4.40zM1598.3 1011.1h4.40v12.7h-4.40zM1602.7 1015.3h4.40v4.2h-4.40zM1607.1 1011.1h4.40v4.2h-4.40zM1611.5 1015.3h4.40v4.2h-4.40zM1615.9 1011.1h4.40v8.5h-4.40zM1620.3 1006.8h4.40v8.5h-4.40zM1624.7 1006.8h4.40v8.5h-4.40zM1629.1 1011.1h4.40v8.5h-4.40zM1633.5 1011.1h4.40v12.7h-4.40zM1637.9 1006.8h4.40v12.7h-4.40zM1642.3 1019.5h4.40v4.2h-4.40zM1646.7 1006.8h4.40v16.9h-4.40zM1651.1 1011.1h4.40v4.2h-4.40zM1655.5 1011.1h4.40v12.7h-4.40zM1659.9 1015.3h4.40v8.5h-4.40zM1664.3 1011.1h4.40v8.5h-4.40zM1668.7 1015.3h4.40v8.5h-4.40zM1673.1 1011.1h4.40v8.5h-4.40zM1677.5 1011.1h4.40v8.5h-4.40zM1681.9 1006.8h4.40v8.5h-4.40zM1686.3 1011.1h4.40v8.5h-4.40zM1690.7 1011.1h4.40v8.5h-4.40zM1695.1 1011.1h4.40v4.2h-4.40zM1699.5 1011.1h4.40v8.5h-4.40zM1703.9 1015.3h4.40v4.2h-4.40zM1708.3 1019.5h4.40v8.5h-4.40zM1712.7 1011.1h4.40v8.5h-4.40zM1717.1 1011.1h4.40v8.5h-4.40zM1721.5 1015.0h4.40v4.2h-4.40zM1725.9 1015.0h4.40v8.6h-4.40zM1730.3 1011.3h4.40v7.9h-4.40zM1734.7 1011.0h4.40v4.2h-4.40zM1739.1 1007.0h4.40v8.0h-4.40zM1743.5 994.2h4.40v16.6h-4.40zM1747.9 981.4h4.40v12.3h-4.40zM1752.3 964.0h4.40v21.0h-4.40zM1756.7 942.8h4.40v21.0h-4.40zM1761.1 908.3h4.40v34.5h-4.40zM1765.5 908.3h4.40v76.7h-4.40zM1769.9 985.4h4.40v21.6h-4.40zM1774.3 1007.0h4.40v8.2h-4.40zM1778.7 1011.3h4.40v7.9h-4.40zM1783.1 1011.3h4.40v12.3h-4.40zM1787.5 1011.3h4.40v7.9h-4.40zM1791.9 1015.0h4.40v8.6h-4.40zM1796.3 1019.2h4.40v4.4h-4.40zM1800.7 1011.3h4.40v7.9h-4.40zM1805.1 1011.3h4.40v7.9h-4.40zM1809.5 1007.0h4.40v12.2h-4.40zM1813.9 1011.3h4.40v12.3h-4.40zM1818.3 1015.3h4.40v4.2h-4.40zM1822.7 1011.1h4.40v4.2h-4.40zM1827.1 1015.3h4.40v4.2h-4.40zM1831.5 1015.3h4.40v4.2h-4.40zM1835.9 1011.1h4.40v8.5h-4.40zM1840.3 1011.1h4.40v12.7h-4.40zM1844.7 1015.3h4.40v8.5h-4.40zM1849.2 1006.8h4.40v8.5h-4.40zM1853.6 1011.1h4.40v4.2h-4.40zM1858.0 1006.8h4.40v12.7h-4.40zM1862.4 1006.8h4.40v12.7h-4.40zM1866.8 1006.8h4.40v12.7h-4.40zM1871.2 1015.3h4.40v4.2h-4.40zM1875.6 1011.1h4.40v4.2h-4.40zM1880.0 1011.1h4.40v4.2h-4.40zM1884.4 1015.3h4.40v4.2h-4.40zM1888.8 1006.8h4.40v8.5h-4.40zM1893.2 1015.3h4.40v4.2h-4.40zM1897.6 1011.1h4.40v8.5h-4.40zM1902.0 1011.1h4.40v4.2h-4.40zM1906.4 1011.1h4.40v8.5h-4.40zM1910.8 1015.3h4.40v8.5h-4.40zM1915.2 1011.1h4.40v8.5h-4.40zM1919.6 1015.3h4.40v8.5h-4.40zM1924.0 1011.1h4.40v4.2h-4.40zM1928.4 1006.8h4.40v12.7h-4.40zM1932.8 1006.8h4.40v4.2h-4.40zM1937.2 1011.1h4.40v8.5h-4.40zM1941.6 1011.1h4.40v8.5h-4.40zM1946.0 1006.8h4.40v12.7h-4.40zM1950.4 1011.1h4.40v8.5h-4.40zM1954.8 1006.8h4.40v8.5h-4.40zM1959.2 1015.3h4.40v4.2h-4.40zM1963.6 1011.1h4.40v4.2h-4.40zM1968.0 1011.1h4.40v8.5h-4.40zM1972.4 1011.1h4.40v4.2h-4.40zM1976.8 1015.3h4.40v4.2h-4.40zM1981.2 1019.5h4.40v4.2h-4.40zM1985.6 1011.1h4.40v12.7h-4.40zM1990.0 1011.1h4.40v8.5h-4.40zM1994.4 1011.1h4.40v4.2h-4.40zM1998.8 1015.3h4.40v8.5h-4.40zM2003.2 1011.1h4.40v4.2h-4.40zM2007.6 1011.1h4.40v4.2h-4.40zM2012.0 1011.1h4.40v4.2h-4.40zM2016.4 1011.1h4.40v8.5h-4.40zM2020.8 1015.3h4.40v4.2h-4.40zM2025.2 1015.3h4.40v4.2h-4.40zM2029.6 1011.1h4.40v8.5h-4.40zM2034.0 1011.1h4.40v8.5h-4.40zM2038.4 1006.8h4.40v12.7h-4.40zM2042.8 1015.3h4.40v4.2h-4.40zM2047.2 1015.3h4.40v8.5h-4.40zM2051.6 1006.8h4.40v12.7h-4.40zM2056.0 1015.3h4.40v4.2h-4.40zM2060.4 1006.8h4.40v8.5h-4.40zM2064.8 1015.3h4.40v8.5h-4.40zM2069.2 1006.8h4.40v12.7h-4.40zM2073.6 1011.1h4.40v8.5h-4.40zM2078.0 1011.1h4.40v8.5h-4.40zM2082.4 1011.1h4.40v8.5h-4.40zM2086.8 1015.3h4.40v4.2h-4.40zM2091.2 1011.1h4.40v4.2h-4.40zM2095.6 1015.3h4.40v8.5h-4.40zM2100.0 1011.1h4.40v8.5h-4.40zM2104.4 1015.3h4.40v4.2h-4.40zM2108.8 1011.1h4.40v12.7h-4.40zM2113.2 1015.3h4.40v4.2h-4.40zM2117.6 1015.3h4.40v4.2h-4.40zM2122.0 1015.3h4.40v4.2h-4.40zM2126.4 1015.3h4.40v8.5h-4.40zM2130.8 1015.3h4.40v4.2h-4.40zM2135.2 1011.1h4.40v8.5h-4.40zM2139.6 1011.1h4.40v4.2h-4.40zM2144.0 1015.3h4.40v8.5h-4.40zM2148.4 1011.1h4.40v4.2h-4.40zM2152.8 1011.1h4.40v4.2h-4.40zM2157.2 1011.1h4.40v12.7h-4.40zM2161.6 1006.8h4.40v8.5h-4.40zM2166.0 1011.1h4.40v8.5h-4.40zM2170.4 1011.1h4.40v8.5h-4.40zM2174.8 1006.8h4.40v8.5h-4.40zM2179.2 1015.3h4.40v8.5h-4.40zM2183.6 1006.8h4.40v8.5h-4.40zM2188.0 1011.1h4.40v4.2h-4.40zM2192.4 1011.1h4.40v8.5h-4.40zM2196.8 1011.1h4.40v8.5h-4.40zM2201.2 1011.1h4.40v4.2h-4.40zM2205.6 1011.1h4.40v8.5h-4.40zM2210.0 1011.1h4.40v8.5h-4.40zM2214.4 1011.1h4.40v8.5h-4.40zM2218.8 1015.4h4.40v8.2h-4.40zM2223.2 1010.9h4.40v3.7h-4.40zM2227.6 1010.9h4.40v3.7h-4.40zM2232.0 1015.4h4.40v4.1h-4.40zM2236.4 1006.7h4.40v8.3h-4.40zM2240.8 1015.4h4.40v8.2h-4.40zM2245.2 1006.7h4.40v12.8h-4.40zM2249.6 1002.6h4.40v12.4h-4.40zM2254.0 1002.6h4.40v12.4h-4.40zM2258.4 998.1h4.40v8.6h-4.40zM2262.8 981.3h4.40v20.6h-4.40zM2267.2 968.2h4.40v21.3h-4.40zM2271.6 964.0h4.40v8.3h-4.40zM2276.0 964.0h4.40v8.3h-4.40zM2280.4 972.3h4.40v25.5h-4.40zM2284.8 998.1h4.40v4.1h-4.40zM2289.2 1002.6h4.40v12.4h-4.40zM2293.6 1002.6h4.40v12.4h-4.40zM2298.0 1002.6h4.40v16.5h-4.40zM2302.4 1006.7h4.40v12.4h-4.40zM2306.8 1006.7h4.40v12.4h-4.40zM2311.2 1015.0h4.40v8.6h-4.40zM2315.6 1010.9h4.40v12.7h-4.40z"/>
<path fill="#ff0000" d="M155.0 1306.3h4.40v12.7h-4.40zM159.4 1302.0h4.40v21.2h-4.40zM163.8 1306.3h4.40v4.2h-4.40zM168.2 1306.3h4.40v8.5h-4.40zM172.6 1306.3h4.40v8.5h-4.40zM177.0 1306.3h4.40v12.7h-4.40zM181.4 1310.5h4.40v4.2h-4.40zM185.8 1310.5h4.40v4.2h-4.40zM190.2 1302.0h4.40v12.7h-4.40zM194.6 1310.5h4.40v4.2h-4.40zM199.0 1306.3h4.40v4.2h-4.40zM203.4 1310.5h4.40v4.2h-4.40zM207.8 1310.5h4.40v8.5h-4.40zM212.2 1310.5h4.40v8.5h-4.40zM216.6 1310.5h4.40v4.2h-4.40zM221.0 1306.3h4.40v12.7h-4.40zM225.4 1306.3h4.40v8.5h-4.40zM229.8 1310.5h4.40v8.5h-4.40zM234.2 1306.3h4.40v8.5h-4.40zM238.6 1306.3h4.40v8.5h-4.40zM243.0 1302.0h4.40v12.7h-4.40zM247.4 1302.0h4.40v12.7h-4.40zM251.8 1306.3h4.40v8.5h-4.40zM256.2 1306.3h4.40v8.5h-4.40zM260.6 1306.3h4.40v8.5h-4.40zM265.0 1306.3h4.40v8.5h-4.40zM269.4 1306.3h4.40v8.5h-4.40zM273.8 1306.3h4.40v8.5h-4.40zM278.2 1310.5h4.40v4.2h-4.40zM282.6 1306.3h4.40v12.7h-4.40zM287.0 1306.3h4.40v4.2h-4.40zM291.4 1306.3h4.40v8.5h-4.40zM295.8 1310.5h4.40v8.5h-4.40zM300.2 1306.3h4.40v4.2h-4.40zM304.6 1306.3h4.40v8.5h-4.40zM309.0 1306.3h4.40v8.5h-4.40zM313.4 1306.3h4.40v4.2h-4.40zM317.8 1302.0h4.40v8.5h-4.40zM322.2 1310.5h4.40v4.2h-4.40zM326.6 1306.3h4.40v8.5h-4.40zM331.0 1302.0h4.40v12.7h-4.40zM335.4 1306.3h4.40v8.5h-4.40zM339.8 1306.3h4.40v8.5h-4.40zM344.2 1310.5h4.40v4.2h-4.40zM348.6 1310.5h4.40v4.2h-4.40zM353.0 1310.5h4.40v8.5h-4.40zM357.4 1306.3h4.40v8.5h-4.40zM361.8 1306.3h4.40v8.5h-4.40zM366.2 1310.5h4.40v4.2h-4.40zM370.6 1310.5h4.40v8.5h-4.40zM375.0 1302.0h4.40v12.7h-4.40zM379.4 1306.3h4.40v8.5h-4.40zM383.8 1306.3h4.40v8.5h-4.40zM388.2 1306.3h4.40v4.2h-4.40zM392.6 1302.0h4.40v16.9h-4.40zM397.0 1306.3h4.40v4.2h-4.40zM401.4 1306.3h4.40v4.2h-4.40zM405.8 1306.3h4.40v8.5h-4.40zM410.2 1306.3h4.40v4.2h-4.40zM414.6 1306.3h4.40v4.2h-4.40zM419.0 1306.3h4.40v8.5h-4.40zM423.4 1310.5h4.40v4.2h-4.40zM427.8 1302.0h4.40v8.5h-4.40zM432.2 1302.0h4.40v12.7h-4.40zM436.6 1306.3h4.40v8.5h-4.40zM441.0 1306.3h4.40v8.5h-4.40zM445.4 1306.3h4.40v8.5h-4.40zM449.8 1306.3h4.40v4.2h-4.40zM454.2 1306.3h4.40v4.2h-4.40zM458.6 1306.3h4.40v8.5h-4.40zM463.0 1310.5h4.40v4.2h-4.40zM467.4 1306.3h4.40v8.5h-4.40zM471.8 1302.0h4.40v12.7h-4.40zM476.2 1302.0h4.40v12.7h-4.40zM480.6 1302.0h4.40v12.7h-4.40zM485.0 1310.5h4.40v8.5h-4.40zM489.4 1306.3h4.40v8.5h-4.40zM493.8 1306.3h4.40v8.5h-4.40zM498.2 1306.3h4.40v8.5h-4.40zM502.6 1302.0h4.40v12.7h-4.40zM507.0 1306.3h4.40v8.5h-4.40zM511.4 1306.3h4.40v8.5h-4.40zM515.8 1310.5h4.40v4.2h-4.40zM520.2 1306.3h4.40v8.5h-4.40zM524.6 1306.3h4.40v8.5h-4.40zM529.0 1306.3h4.40v4.2h-4.40zM533.4 1310.5h4.40v4.2h-4.40zM537.8 1310.5h4.40v4.2h-4.40zM542.2 1306.3h4.40v12.7h-4.40zM546.6 1314.8h4.40v4.1h-4.40zM551.0 1310.8h4.40v4.0h-4.40zM555.4 1306.0h4.40v4.8h-4.40zM559.8 1254.4h4.40v51.6h-4.40zM564.2 886.7h4.40v367.7h-4.40zM568.6 377.9h4.40v508.8h-4.40zM573.0 608.8h4.40v688.2h-4.40zM577.4 1289.0h4.40v13.0h-4.40zM581.8 1302.0h4.40v16.0h-4.40zM586.2 1306.0h4.40v5.0h-4.40zM590.6 1306.3h4.40v8.5h-4.40zM595.0 1306.3h4.40v8.5h-4.40zM599.4 1306.3h4.40v8.5h-4.40zM603.8 1306.3h4.40v4.2h-4.40zM608.2 1306.3h4.40v4.2h-4.40zM612.6 1310.5h4.40v8.5h-4.40zM617.0 1306.3h4.40v8.5h-4.40zM621.4 1310.5h4.40v4.2h-4.40zM625.8 1310.5h4.40v4.2h-4.40zM630.2 1302.0h4.40v16.9h-4.40zM634.6 1310.5h4.40v4.2h-4.40zM639.0 1306.3h4.40v8.5h-4.40zM643.4 1306.3h4.40v4.2h-4.40zM647.8 1310.5h4.40v8.5h-4.40zM652.2 1306.3h4.40v8.5h-4.40zM656.6 1310.5h4.40v4.2h-4.40zM661.0 1306.3h4.40v12.7h-4.40zM665.4 1310.5h4.40v8.5h-4.40zM669.8 1310.5h4.40v4.2h-4.40zM674.2 1306.3h4.40v8.5h-4.40zM678.6 1306.3h4.40v4.2h-4.40zM683.0 1306.3h4.40v12.7h-4.40zM687.4 1302.0h4.40v8.5h-4.40zM691.8 1306.3h4.40v4.2h-4.40zM696.2 1306.3h4.40v8.5h-4.40zM700.6 1306.3h4.40v8.5h-4.40zM705.0 1306.3h4.40v4.2h-4.40zM709.4 1306.3h4.40v8.5h-4.40zM713.8 1310.5h4.40v4.2h-4.40zM718.2 1306.3h4.40v12.7h-4.40zM722.6 1306.3h4.40v12.7h-4.40zM727.0 1306.3h4.40v8.5h-4.40zM731.4 1306.3h4.40v4.2h-4.40zM735.8 1306.3h4.40v4.2h-4.40zM740.2 1306.3h4.40v12.7h-4.40zM744.6 1306.3h4.40v8.5h-4.40zM749.0 1310.5h4.40v4.2h-4.40zM753.4 1306.3h4.40v8.5h-4.40zM757.8 1310.5h4.40v3.9h-4.40zM762.2 1310.5h4.40v8.2h-4.40zM766.6 1306.2h4.40v8.2h-4.40zM771.0 1310.5h4.40v8.2h-4.40zM775.4 1301.8h4.40v8.7h-4.40zM779.8 1306.2h4.40v8.2h-4.40zM784.2 1259.1h4.40v46.6h-4.40zM788.6 1225.0h4.40v34.1h-4.40zM793.0 1225.0h4.40v63.9h-4.40zM797.4 1288.9h4.40v29.8h-4.40zM801.8 1306.2h4.40v12.5h-4.40zM806.2 1306.2h4.40v12.5h-4.40zM810.6 1310.5h4.40v8.2h-4.40zM815.0 1310.5h4.40v3.9h-4.40zM819.4 1310.5h4.40v3.9h-4.40zM823.8 1314.8h4.40v3.9h-4.40zM828.2 1306.3h4.40v4.2h-4.40zM832.6 1310.5h4.40v8.5h-4.40zM837.0 1310.5h4.40v4.2h-4.40zM841.4 1306.3h4.40v8.5h-4.40zM845.8 1310.5h4.40v4.2h-4.40zM850.2 1306.3h4.40v4.2h-4.40zM854.6 1302.0h4.40v8.5h-4.40zM859.0 1306.3h4.40v8.5h-4.40zM863.4 1306.3h4.40v8.5h-4.40zM867.8 1310.5h4.40v4.2h-4.40zM872.2 1302.0h4.40v12.7h-4.40zM876.6 1310.5h4.40v8.5h-4.40zM881.0 1306.3h4.40v4.2h-4.40zM885.4 1310.5h4.40v8.5h-4.40zM889.8 1306.3h4.40v8.5h-4.40zM894.2 1306.3h4.40v8.5h-4.40zM898.6 1310.5h4.40v8.5h-4.40zM903.0 1310.5h4.40v4.2h-4.40zM907.4 1306.3h4.40v8.5h-4.40zM911.8 1306.3h4.40v8.5h-4.40zM916.2 1310.5h4.40v4.2h-4.40zM920.6 1310.5h4.40v4.2h-4.40zM925.0 1306.3h4.40v8.5h-4.40zM929.4 1306.3h4.40v8.5h-4.40zM933.8 1310.5h4.40v8.5h-4.40zM938.2 1306.3h4.40v8.5h-4.40zM942.6 1306.3h4.40v8.5h-4.40zM947.0 1306.3h4.40v8.5h-4.40zM951.4 1306.3h4.40v8.5h-4.40zM955.8 1306.3h4.40v8.5h-4.40zM960.2 1310.5h4.40v4.2h-4.40zM964.6 1306.3h4.40v4.2h-4.40zM969.1 1310.5h4.40v4.2h-4.40zM973.5 1302.0h4.40v8.5h-4.40zM977.9 1310.5h4.40v4.2h-4.40zM982.3 1306.3h4.40v12.7h-4.40zM986.7 1306.3h4.40v8.5h-4.40zM991.1 1306.3h4.40v8.5h-4.40zM995.5 1306.3h4.40v8.5h-4.40zM999.9 1306.3h4.40v8.5h-4.40zM1004.3 1306.3h4.40v8.5h-4.40zM1008.7 1310.5h4.40v4.2h-4.40zM1013.1 1306.3h4.40v8.5h-4.40zM1017.5 1306.3h4.40v8.5h-4.40zM1021.9 1306.3h4.40v4.2h-4.40zM1026.3 1306.3h4.40v8.5h-4.40zM1030.7 1310.5h4.40v8.5h-4.40zM1035.1 1306.3h4.40v8.5h-4.40zM1039.5 1310.5h4.40v4.2h-4.40zM1043.9 1306.3h4.40v8.5h-4.40zM1048.3 1306.3h4.40v8.5h-4.40zM1052.7 1310.5h4.40v4.2h-4.40zM1057.1 1306.3h4.40v12.7h-4.40zM1061.5 1310.5h4.40v8.5h-4.40zM1065.9 1310.5h4.40v8.5h-4.40zM1070.3 1306.3h4.40v8.5h-4.40zM1074.7 1314.7h4.40v4.2h-4.40zM1079.1 1310.5h4.40v4.2h-4.40zM1083.5 1306.3h4.40v8.5h-4.40zM1087.9 1310.5h4.40v4.2h-4.40zM1092.3 1306.3h4.40v8.5h-4.40zM1096.7 1306.3h4.40v8.5h-4.40zM1101.1 1306.3h4.40v8.5h-4.40zM1105.5 1306.3h4.40v8.5h-4.40zM1109.9 1306.3h4.40v8.5h-4.40zM1114.3 1306.3h4.40v8.5h-4.40zM1118.7 1306.3h4.40v4.2h-4.40zM1123.1 1306.3h4.40v8.5h-4.40zM1127.5 1310.5h4.40v4.2h-4.40zM1131.9 1306.3h4.40v8.5h-4.40zM1136.3 1310.5h4.40v4.2h-4.40zM1140.7 1306.3h4.40v8.5h-4.40zM1145.1 1306.3h4.40v4.2h-4.40zM1149.5 1306.3h4.40v8.5h-4.40zM1153.9 1306.3h4.40v12.7h-4.40zM1158.3 1310.5h4.40v8.5h-4.40zM1162.7 1302.0h4.40v16.9h-4.40zM1167.1 1310.5h4.40v4.2h-4.40zM1171.5 1310.5h4.40v4.2h-4.40zM1175.9 1306.3h4.40v4.2h-4.40zM1180.3 1306.3h4.40v8.5h-4.40zM1184.7 1306.3h4.40v8.5h-4.40zM1189.1 1306.3h4.40v8.5h-4.40zM1193.5 1306.3h4.40v8.5h-4.40zM1197.9 1306.3h4.40v8.5h-4.40zM1202.3 1306.3h4.40v8.5h-4.40zM1206.7 1310.5h4.40v8.5h-4.40zM1211.1 1310.5h4.40v4.2h-4.40zM1215.5 1306.3h4.40v8.5h-4.40zM1219.9 1306.3h4.40v4.2h-4.40zM1224.3 1306.3h4.40v8.5h-4.40zM1228.7 1310.5h4.40v4.2h-4.40zM1233.1 1306.3h4.40v4.2h-4.40zM1237.5 1310.5h4.40v4.2h-4.40zM1241.9 1306.3h4.40v12.7h-4.40zM1246.3 1306.3h4.40v4.2h-4.40zM1250.7 1306.3h4.40v12.7h-4.40zM1255.1 1306.3h4.40v12.7h-4.40zM1259.5 1306.3h4.40v8.5h-4.40zM1263.9 1306.3h4.40v8.5h-4.40zM1268.3 1310.5h4.40v4.2h-4.40zM1272.7 1302.0h4.40v12.7h-4.40zM1277.1 1310.5h4.40v4.2h-4.40zM1281.5 1310.5h4.40v4.2h-4.40zM1285.9 1306.3h4.40v8.5h-4.40zM1290.3 1306.3h4.40v8.5h-4.40zM1294.7 1306.3h4.40v8.5h-4.40zM1299.1 1306.3h4.40v4.2h-4.40zM1303.5 1306.3h4.40v8.5h-4.40zM1307.9 1310.5h4.40v4.2h-4.40zM1312.3 1306.3h4.40v4.2h-4.40zM1316.7 1310.5h4.40v4.2h-4.40zM1321.1 1310.5h4.40v4.2h-4.40zM1325.5 1306.3h4.40v8.5h-4.40zM1329.9 1310.5h4.40v4.2h-4.40zM1334.3 1306.3h4.40v8.5h-4.40zM1338.7 1310.5h4.40v4.2h-4.40zM1343.1 1306.3h4.40v4.2h-4.40zM1347.5 1310.5h4.40v4.2h-4.40zM1351.9 1306.3h4.40v8.5h-4.40zM1356.3 1306.3h4.40v8.5h-4.40zM1360.7 1310.5h4.40v4.2h-4.40zM1365.1 1310.5h4.40v4.2h-4.40zM1369.5 1306.3h4.40v8.5h-4.40zM1373.9 1306.3h4.40v8.5h-4.40zM1378.3 1310.5h4.40v4.2h-4.40zM1382.7 1310.5h4.40v8.5h-4.40zM1387.1 1306.3h4.40v8.5h-4.40zM1391.5 1310.5h4.40v8.5h-4.40zM1395.9 1310.5h4.40v4.2h-4.40zM1400.3 1310.5h4.40v4.2h-4.40zM1404.7 1310.5h4.40v12.7h-4.40zM1409.1 1306.3h4.40v8.5h-4.40zM1413.5 1306.3h4.40v8.5h-4.40zM1417.9 1310.5h4.40v4.2h-4.40zM1422.3 1310.5h4.40v4.2h-4.40zM1426.7 1306.3h4.40v8.5h-4.40zM1431.1 1310.5h4.40v4.2h-4.40zM1435.5 1310.5h4.40v4.2h-4.40zM1439.9 1310.5h4.40v8.5h-4.40zM1444.3 1310.5h4.40v4.2h-4.40zM1448.7 1310.5h4.40v8.5h-4.40zM1453.1 1310.5h4.40v4.2h-4.40zM1457.5 1310.5h4.40v4.2h-4.40zM1461.9 1310.5h4.40v4.2h-4.40zM1466.3 1310.5h4.40v8.5h-4.40zM1470.7 1310.5h4.40v8.5h-4.40zM1475.1 1310.5h4.40v4.2h-4.40zM1479.5 1306.3h4.40v8.5h-4.40zM1483.9 1310.5h4.40v4.2h-4.40zM1488.3 1306.3h4.40v8.5h-4.40zM1492.7 1310.5h4.40v4.2h-4.40zM1497.1 1306.2h4.40v8.5h-4.40zM1501.5 1306.2h4.40v4.2h-4.40zM1505.9 1306.2h4.40v8.5h-4.40zM1510.3 1302.0h4.40v8.4h-4.40zM1514.7 1297.5h4.40v8.7h-4.40zM1519.1 1284.7h4.40v12.8h-4.40zM1523.5 1208.0h4.40v76.4h-4.40zM1527.9 1169.3h4.40v38.4h-4.40zM1532.3 1199.2h4.40v93.7h-4.40zM1536.7 1293.1h4.40v17.3h-4.40zM1541.1 1306.2h4.40v4.2h-4.40zM1545.5 1306.2h4.40v4.2h-4.40zM1549.9 1306.2h4.40v8.5h-4.40zM1554.3 1310.4h4.40v4.3h-4.40zM1558.7 1310.4h4.40v4.3h-4.40zM1563.1 1310.4h4.40v4.3h-4.40zM1567.5 1314.7h4.40v4.2h-4.40zM1571.9 1310.5h4.40v8.5h-4.40zM1576.3 1310.5h4.40v4.2h-4.40zM1580.7 1306.3h4.40v4.2h-4.40zM1585.1 1306.3h4.40v4.2h-4.40zM1589.5 1306.3h4.40v8.5h-4.40zM1593.9 1306.3h4.40v4.2h-4.40zM1598.3 1310.5h4.40v8.5h-4.40zM1602.7 1310.5h4.40v4.2h-4.40zM1607.1 1306.3h4.40v8.5h-4.40zM1611.5 1306.3h4.40v4.2h-4.40zM1615.9 1310.5h4.40v8.5h-4.40zM1620.3 1310.5h4.40v8.5h-4.40zM1624.7 1310.5h4.40v8.5h-4.40zM1629.1 1310.5h4.40v8.5h-4.40zM1633.5 1310.5h4.40v8.5h-4.40zM1637.9 1306.3h4.40v8.5h-4.40zM1642.3 1310.5h4.40v4.2h-4.40zM1646.7 1310.5h4.40v4.2h-4.40zM1651.1 1306.3h4.40v8.5h-4.40zM1655.5 1310.5h4.40v4.2h-4.40zM1659.9 1310.5h4.40v4.2h-4.40zM1664.3 1310.5h4.40v4.2h-4.40zM1668.7 1310.5h4.40v4.2h-4.40zM1673.1 1310.5h4.40v4.2h-4.40zM1677.5 1310.5h4.40v4.2h-4.40zM1681.9 1310.5h4.40v4.2h-4.40zM1686.3 1310.5h4.40v8.5h-4.40zM1690.7 1306.3h4.40v8.5h-4.40zM1695.1 1310.5h4.40v4.2h-4.40zM1699.5 1306.3h4.40v8.5h-4.40zM1703.9 1310.5h4.40v4.2h-4.40zM1708.3 1310.5h4.40v4.2h-4.40zM1712.7 1306.3h4.40v8.5h-4.40zM1717.1 1310.5h4.40v4.2h-4.40zM1721.5 1306.3h4.40v8.5h-4.40zM1725.9 1310.5h4.40v4.2h-4.40zM1730.3 1306.3h4.40v8.5h-4.40zM1734.7 1306.3h4.40v8.5h-4.40zM1739.1 1310.5h4.40v8.5h-4.40zM1743.5 1310.5h4.40v8.5h-4.40zM1747.9 1310.5h4.40v4.2h-4.40zM1752.3 1310.5h4.40v4.2h-4.40zM1756.7 1306.3h4.40v8.5h-4.40zM1761.1 1310.5h4.40v8.5h-4.40zM1765.5 1310.5h4.40v4.2h-4.40zM1769.9 1306.3h4.40v8.5h-4.40zM1774.3 1310.5h4.40v4.2h-4.40zM1778.7 1310.5h4.40v4.2h-4.40zM1783.1 1310.5h4.40v4.2h-4.40zM1787.5 1310.5h4.40v8.5h-4.40zM1791.9 1310.5h4.40v4.2h-4.40zM1796.3 1310.5h4.40v4.2h-4.40zM1800.7 1310.5h4.40v8.5h-4.40zM1805.1 1310.5h4.40v8.5h-4.40zM1809.5 1306.3h4.40v8.5h-4.40zM1813.9 1306.3h4.40v12.7h-4.40zM1818.3 1310.5h4.40v4.2h-4.40zM1822.7 1310.5h4.40v4.2h-4.40zM1827.1 1310.5h4.40v4.2h-4.40zM1831.5 1310.5h4.40v4.2h-4.40zM1835.9 1310.5h4.40v4.2h-4.40zM1840.3 1310.5h4.40v4.2h-4.40zM1844.7 1310.5h4.40v8.5h-4.40zM1849.2 1310.5h4.40v8.5h-4.40zM1853.6 1306.3h4.40v8.5h-4.40zM1858.0 1310.5h4.40v4.2h-4.40zM1862.4 1310.5h4.40v8.5h-4.40zM1866.8 1306.3h4.40v8.5h-4.40zM1871.2 1310.5h4.40v4.2h-4.40zM1875.6 1306.3h4.40v8.5h-4.40zM1880.0 1306.3h4.40v8.5h-4.40zM1884.4 1310.5h4.40v4.2h-4.40zM1888.8 1310.5h4.40v8.5h-4.40zM1893.2 1310.5h4.40v8.5h-4.40zM1897.6 1314.7h4.40v4.2h-4.40zM1902.0 1310.5h4.40v4.2h-4.40zM1906.4 1310.5h4.40v8.5h-4.40zM1910.8 1310.5h4.40v8.5h-4.40zM1915.2 1310.5h4.40v8.5h-4.40zM1919.6 1306.3h4.40v8.5h-4.40zM1924.0 1306.3h4.40v8.5h-4.40zM1928.4 1310.5h4.40v4.2h-4.40zM1932.8 1310.5h4.40v4.2h-4.40zM1937.2 1306.3h4.40v8.5h-4.40zM1941.6 1310.5h4.40v8.5h-4.40zM1946.0 1310.5h4.40v4.2h-4.40zM1950.4 1310.5h4.40v4.2h-4.40zM1954.8 1310.5h4.40v8.5h-4.40zM1959.2 1310.5h4.40v8.5h-4.40zM1963.6 1310.5h4.40v4.2h-4.40zM1968.0 1310.5h4.40v8.5h-4.40zM1972.4 1310.5h4.40v4.2h-4.40zM1976.8 1310.5h4.40v8.5h-4.40zM1981.2 1314.7h4.40v4.2h-4.40zM1985.6 1306.3h4.40v8.5h-4.40zM1990.0 1310.5h4.40v3.9h-4.40zM1994.4 1310.5h4.40v8.2h-4.40zM1998.8 1310.5h4.40v3.9h-4.40zM2003.2 1306.2h4.40v3.8h-4.40zM2007.6 1293.2h4.40v16.8h-4.40zM2012.0 1276.4h4.40v16.4h-4.40zM2016.4 1250.9h4.40v25.0h-4.40zM2020.8 1237.9h4.40v12.5h-4.40zM2025.2 1237.9h4.40v29.8h-4.40zM2029.6 1267.7h4.40v34.2h-4.40zM2034.0 1301.9h4.40v12.5h-4.40zM2038.4 1310.0h4.40v4.4h-4.40zM2042.8 1314.4h4.40v4.3h-4.40zM2047.2 1306.2h4.40v8.2h-4.40zM2051.6 1306.2h4.40v8.2h-4.40zM2056.0 1310.0h4.40v8.7h-4.40zM2060.4 1310.5h4.40v4.2h-4.40zM2064.8 1306.3h4.40v12.7h-4.40zM2069.2 1310.5h4.40v8.5h-4.40zM2073.6 1310.5h4.40v4.2h-4.40zM2078.0 1310.5h4.40v8.5h-4.40zM2082.4 1310.5h4.40v4.2h-4.40zM2086.8 1310.5h4.40v8.5h-4.40zM2091.2 1310.5h4.40v4.2h-4.40zM2095.6 1306.3h4.40v8.5h-4.40zM2100.0 1310.5h4.40v4.2h-4.40zM2104.4 1310.5h4.40v4.2h-4.40zM2108.8 1310.5h4.40v8.5h-4.40zM2113.2 1310.5h4.40v8.5h-4.40zM2117.6 1310.5h4.40v4.2h-4.40zM2122.0 1306.3h4.40v8.5h-4.40zM2126.4 1306.3h4.40v8.5h-4.40zM2130.8 1306.3h4.40v12.7h-4.40zM2135.2 1310.5h4.40v4.2h-4.40zM2139.6 1306.3h4.40v8.5h-4.40zM2144.0 1314.7h4.40v4.2h-4.40zM2148.4 1310.5h4.40v8.5h-4.40zM2152.8 1310.5h4.40v4.2h-4.40zM2157.2 1310.2h4.40v4.5h-4.40zM2161.6 1306.0h4.40v8.7h-4.40zM2166.0 1310.2h4.40v4.5h-4.40zM2170.4 1306.0h4.40v4.2h-4.40zM2174.8 1306.0h4.40v4.2h-4.40zM2179.2 1280.8h4.40v24.9h-4.40zM2183.6 1268.0h4.40v12.5h-4.40zM2188.0 1272.2h4.40v25.2h-4.40zM2192.4 1297.8h4.40v4.1h-4.40zM2196.8 1301.9h4.40v12.8h-4.40zM2201.2 1310.5h4.40v8.3h-4.40zM2205.6 1314.7h4.40v4.1h-4.40zM2210.0 1310.5h4.40v8.3h-4.40zM2214.4 1310.5h4.40v4.2h-4.40zM2218.8 1310.5h4.40v4.2h-4.40zM2223.2 1314.7h4.40v4.2h-4.40zM2227.6 1310.5h4.40v8.5h-4.40zM2232.0 1310.5h4.40v8.5h-4.40zM2236.4 1306.3h4.40v8.5h-4.40zM2240.8 1310.5h4.40v4.2h-4.40zM2245.2 1310.5h4.40v8.5h-4.40zM2249.6 1306.3h4.40v12.7h-4.40zM2254.0 1306.3h4.40v8.5h-4.40zM2258.4 1310.5h4.40v8.5h-4.40zM2262.8 1310.5h4.40v4.2h-4.40zM2267.2 1306.3h4.40v8.5h-4.40zM2271.6 1310.5h4.40v4.2h-4.40zM2276.0 1310.5h4.40v4.2h-4.40zM2280.4 1310.5h4.40v4.2h-4.40zM2284.8 1306.3h4.40v8.5h-4.40zM2289.2 1310.5h4.40v8.5h-4.40zM2293.6 1310.5h4.40v8.5h-4.40zM2298.0 1310.5h4.40v8.5h-4.40zM2302.4 1314.7h4.40v4.2h-4.40zM2306.8 1310.5h4.40v4.2h-4.40zM2311.2 1310.5h4.40v4.2h-4.40zM2315.6 1310.5h4.40v4.2h-4.40z"/>
<path fill="#000" d="M568.6 339.4H573.0V343.7H568.6zM559.8 343.7H581.8V347.9H559.8zM555.4 347.9H586.2V352.2H555.4zM555.4 352.2H586.2V356.5H555.4zM555.4 356.5H586.2V360.8H555.4zM555.4 360.8H586.2V365.0H555.4zM559.8 365.0H581.8V369.3H559.8zM564.2 369.3H577.4V373.6H564.2zM784.2 1186.5H801.8V1190.8H784.2zM779.8 1190.8H806.2V1195.0H779.8zM775.4 1195.0H810.6V1199.3H775.4zM775.4 1199.3H810.6V1203.5H775.4zM775.4 1203.5H806.2V1207.8H775.4zM779.8 1207.8H806.2V1212.0H779.8zM784.2 1212.0H801.8V1216.3H784.2zM784.2 1528.7H801.8V1533.0H784.2zM779.8 1533.0H806.2V1537.2H779.8zM775.4 1537.2H806.2V1541.5H775.4zM775.4 1541.5H810.6V1545.7H775.4zM775.4 1545.7H810.6V1550.0H775.4zM779.8 1550.0H806.2V1554.2H779.8zM784.2 1554.2H801.8V1558.5H784.2zM1519.1 1126.6H1536.7V1130.8H1519.1zM1514.7 1130.8H1541.1V1135.1H1514.7zM1514.7 1135.1H1545.5V1139.3H1514.7zM1510.3 1139.3H1545.5V1143.6H1510.3zM1514.7 1143.6H1545.5V1147.8H1514.7zM1514.7 1147.8H1541.1V1152.1H1514.7zM1519.1 1152.1H1541.1V1156.3H1519.1zM1532.3 1464.8H1536.7V1469.0H1532.3zM1523.5 1469.0H1545.5V1473.3H1523.5zM1519.1 1473.3H1549.9V1477.5H1519.1zM1519.1 1477.5H1549.9V1481.7H1519.1zM1519.1 1481.7H1549.9V1486.0H1519.1zM1519.1 1486.0H1549.9V1490.2H1519.1zM1519.1 1490.2H1545.5V1494.5H1519.1zM1527.9 1494.5H1541.1V1498.7H1527.9zM2016.4 1195.1H2034.0V1199.3H2016.4zM2012.0 1199.3H2038.4V1203.6H2012.0zM2007.6 1203.6H2042.8V1207.8H2007.6zM2007.6 1207.8H2042.8V1212.1H2007.6zM2007.6 1212.1H2042.8V1216.3H2007.6zM2012.0 1216.3H2038.4V1220.6H2012.0zM2016.4 1220.6H2034.0V1224.8H2016.4zM2016.4 1554.1H2029.6V1558.4H2016.4zM2012.0 1558.4H2034.0V1562.7H2012.0zM2007.6 1562.7H2038.4V1567.0H2007.6zM2007.6 1567.0H2038.4V1571.2H2007.6zM2007.6 1571.2H2038.4V1575.5H2007.6zM2007.6 1575.5H2038.4V1579.8H2007.6zM2012.0 1579.8H2034.0V1584.1H2012.0zM2016.4 1584.1H2029.6V1588.4H2016.4zM2183.6 1221.1H2188.0V1225.3H2183.6zM2174.8 1225.3H2196.8V1229.5H2174.8zM2170.4 1229.5H2201.2V1233.7H2170.4zM2170.4 1233.7H2201.2V1238.0H2170.4zM2170.4 1238.0H2201.2V1242.2H2170.4zM2170.4 1242.2H2201.2V1246.4H2170.4zM2174.8 1246.4H2201.2V1250.6H2174.8zM2179.2 1250.6H2196.8V1254.8H2179.2zM2183.6 1563.0H2201.2V1567.3H2183.6zM2179.2 1567.3H2205.6V1571.5H2179.2zM2179.2 1571.5H2210.0V1575.8H2179.2zM2174.8 1575.8H2210.0V1580.0H2174.8zM2179.2 1580.0H2210.0V1584.3H2179.2zM2179.2 1584.3H2210.0V1588.5H2179.2zM2183.6 1588.5H2205.6V1592.8H2183.6z"/>
<path fill="#000" d="M581.9 91.2H616.8V121.0H581.9zM1211.0 951.2H1241.8V980.9H1211.0zM1748.0 865.9H1778.5V899.7H1748.0zM2258.0 921.2H2288.9V950.9H2258.0zM1694.9 125.7H1747.9V176.7H1694.9zM1743.2 870H1748V895H1743.2z"/>
<path fill="#000" d="M1708.1 236.9H1734.2V241.0H1708.1zM1704.0 241.0H1738.7V245.3H1704.0zM1699.2 245.3H1742.9V249.6H1699.2zM1695.1 249.6H1747.4V258.0H1695.1zM1690.6 258.0H1751.9V266.5H1690.6zM1695.1 266.5H1747.4V279.2H1695.1zM1699.2 279.2H1742.9V283.5H1699.2zM1708.1 283.5H1734.2V287.6H1708.1z"/>
</g>
<text x="151.0" y="1804.5" text-anchor="middle" font-size="87" textLength="92" lengthAdjust="spacingAndGlyphs">30</text>
<text x="462.0" y="1804.5" text-anchor="middle" font-size="87" textLength="92" lengthAdjust="spacingAndGlyphs">40</text>
<text x="773.8" y="1804.5" text-anchor="middle" font-size="87" textLength="92" lengthAdjust="spacingAndGlyphs">50</text>
<text x="1081.6" y="1804.5" text-anchor="middle" font-size="87" textLength="92" lengthAdjust="spacingAndGlyphs">60</text>
<text x="1390.0" y="1804.5" text-anchor="middle" font-size="87" textLength="92" lengthAdjust="spacingAndGlyphs">70</text>
<text x="1703.7" y="1804.5" text-anchor="middle" font-size="87" textLength="92" lengthAdjust="spacingAndGlyphs">80</text>
<text x="2009.5" y="1804.5" text-anchor="middle" font-size="87" textLength="92" lengthAdjust="spacingAndGlyphs">90</text>
<text x="2321.5" y="1804.5" text-anchor="middle" font-size="87" textLength="134" lengthAdjust="spacingAndGlyphs">100</text>
<text x="919" y="1899.4" font-size="95" textLength="788" lengthAdjust="spacingAndGlyphs">Deffraction angle, °</text>
<text transform="translate(93.4,1150.5) rotate(-90)" x="0" y="0" font-size="101" textLength="526" lengthAdjust="spacingAndGlyphs">Intensity, a.u.</text>
<text x="1826.8" y="175.9" font-size="77" font-weight="bold" textLength="400" lengthAdjust="spacingAndGlyphs">BCC phase</text>
<text x="1826.8" y="291.9" font-size="77" font-weight="bold" textLength="392" lengthAdjust="spacingAndGlyphs">FCC phase</text>
<text x="230" y="955.3" font-size="77" font-weight="bold" textLength="189" lengthAdjust="spacingAndGlyphs">X = 1</text>
<text x="230" y="1241.8" font-size="77" font-weight="bold" textLength="250" lengthAdjust="spacingAndGlyphs">X = 0.5</text>
<text x="234.2" y="1579.5" font-size="77" font-weight="bold" textLength="190" lengthAdjust="spacingAndGlyphs">X = 0</text>
</svg>
</body></html>
